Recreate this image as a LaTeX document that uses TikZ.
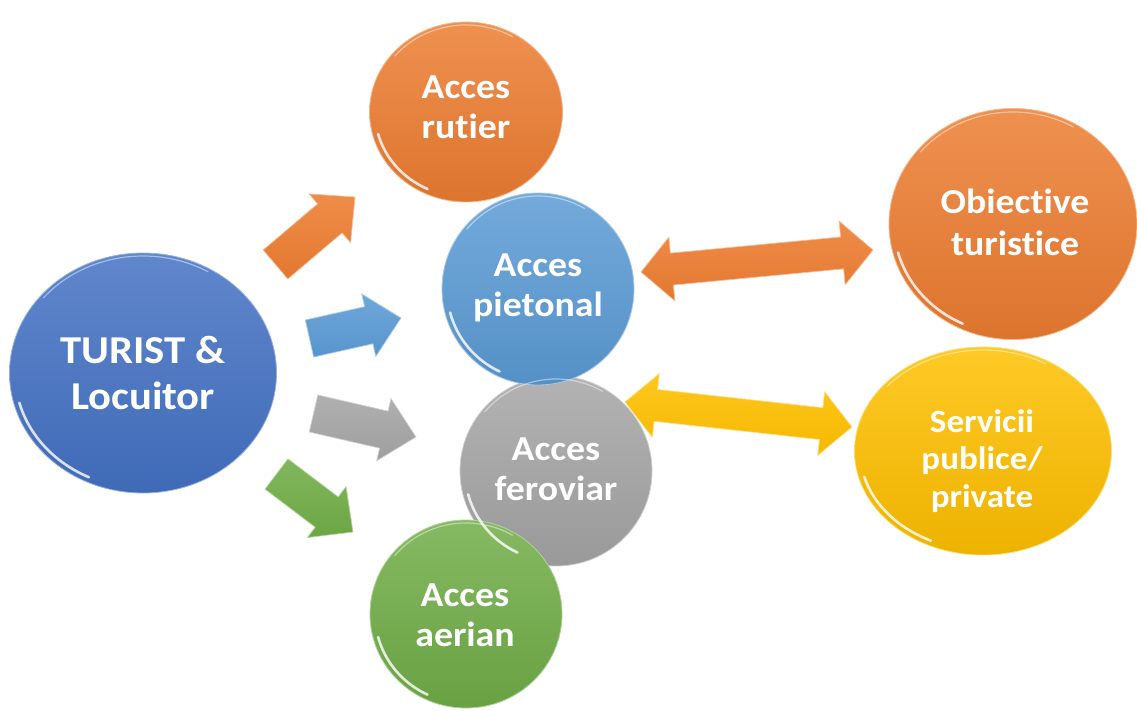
\documentclass[tikz,border=0pt]{standalone}
\usepackage{fontspec}
\setmainfont{Carlito}[Ligatures=CommonOff, FakeStretch=1.08]
\usetikzlibrary{calc,shapes.geometric}
\definecolor{tblue}{HTML}{4472C4}
\definecolor{torange}{HTML}{ED7D31}
\definecolor{tlblue}{HTML}{5B9BD5}
\definecolor{tgray}{HTML}{A5A5A5}
\definecolor{tgreen}{HTML}{70AD47}
\definecolor{tyellow}{HTML}{FFC000}
\newcommand\shine[3]{%
  \draw[white, line width=2.6pt, opacity=0.8, line cap=round]
    ($(#1.center)+(195:#2pt-5pt and #3pt-5pt)$)
    arc[start angle=195, end angle=245, x radius=#2pt-5pt, y radius=#3pt-5pt];
  \draw[white, line width=1.2pt, opacity=0.45, line cap=round]
    ($(#1.center)+(60:#2pt-3pt and #3pt-3pt)$)
    arc[start angle=60, end angle=140, x radius=#2pt-3pt, y radius=#3pt-3pt];
}
\newcommand\sarrow[3]{% start, end, colour
  \coordinate (#1N) at ($(#2)!33pt!(#1)$);
  \path[arr=#3] ($(#1)!19pt!90:(#2)$) -- ($(#1N)!19pt!90:(#2)$) -- ($(#1N)!32pt!90:(#2)$)
     -- (#2) -- ($(#1N)!32pt!-90:(#2)$) -- ($(#1N)!19pt!-90:(#2)$) -- ($(#1)!19pt!-90:(#2)$) -- cycle;
}
\newcommand\darrow[3]{% tip a, tip b, colour
  \coordinate (#1N) at ($(#1)!31pt!(#2)$);
  \coordinate (#2N) at ($(#2)!31pt!(#1)$);
  \path[arr=#3] (#1) -- ($(#1N)!32pt!90:(#2)$) -- ($(#1N)!16pt!90:(#2)$) -- ($(#2N)!16pt!90:(#2)$)
     -- ($(#2N)!32pt!90:(#2)$) -- (#2) -- ($(#2N)!32pt!-90:(#2)$) -- ($(#2N)!16pt!-90:(#2)$)
     -- ($(#1N)!16pt!-90:(#2)$) -- ($(#1N)!32pt!-90:(#2)$) -- cycle;
}
\begin{document}
\begin{tikzpicture}[x=1pt,y=1pt,
  bub/.style={ellipse, inner sep=0pt,
     top color=#1!85!white, bottom color=#1!93!black, draw=#1!55!white, line width=0.8pt},
  lbl/.style={align=center, text=white, inner sep=0pt,
     font=\bfseries\fontsize{35}{40}\selectfont},
  arr/.style={top color=#1!88!white, bottom color=#1!96!black, draw=#1!50!white, line width=0.7pt, line join=miter},
]
\useasboundingbox (0,0) rectangle (1137,-711);
% bubbles
\node[bub=torange, minimum width=193pt, minimum height=180pt] (rut) at (466,-112) {};
\node[bub=tgray, minimum width=192pt, minimum height=190pt] (fer) at (556,-471) {};
\node[bub=tlblue, minimum width=192pt, minimum height=192pt] (pie) at (538,-289) {};
\node[bub=tgreen, minimum width=192pt, minimum height=188pt] (aer) at (466,-614) {};
\node[bub=tblue, minimum width=267pt, minimum height=240pt] (tur) at (143,-373) {};
\node[bub=torange, minimum width=248pt, minimum height=231pt] (obi) at (1013,-224) {};
\node[bub=tyellow, minimum width=257pt, minimum height=208pt] (ser) at (983,-451) {};
\shine{rut}{96}{90}
\shine{fer}{96}{95}
\shine{pie}{96}{96}
\shine{aer}{96}{94}
\shine{tur}{133}{120}
\shine{obi}{124}{115}
\shine{ser}{128}{104}
% labels
\node[lbl] (rutT) at (466,-107) {Acces\\rutier};
\node[lbl] (pieT) at (538,-288) {Acces\\pietonal};
\node[lbl] (ferT) at (556,-469) {Acces\\feroviar};
\node[lbl] (aerT) at (465,-615) {Acces\\aerian};
\node[lbl, font=\bfseries\fontsize{39.5}{46.5}\selectfont] (turT) at (143,-373) {TURIST \&\\Locuitor};
\node[lbl, font=\bfseries\fontsize{35}{42}\selectfont] (obiT) at (1015,-222) {Obiective\\turistice};
\node[lbl, font=\bfseries\fontsize{32.5}{37.5}\selectfont] (serT) at (982,-461) {Servicii\\publice/\\private};
% single arrows
\coordinate (a1s) at (275.5,-264.5); \coordinate (a1e) at (355,-197);
\coordinate (a2s) at (309.5,-338.5); \coordinate (a2e) at (401,-318);
\coordinate (a3s) at (313.5,-413.5); \coordinate (a3e) at (416,-437);
\coordinate (a4s) at (276.5,-474);   \coordinate (a4e) at (353,-532);
\sarrow{a1s}{a1e}{torange}
\sarrow{a2s}{a2e}{tlblue}
\sarrow{a3s}{a3e}{tgray}
\sarrow{a4s}{a4e}{tgreen}
% double arrows
\coordinate (d1a) at (641,-272); \coordinate (d1b) at (873,-250);
\coordinate (d2a) at (625,-402); \coordinate (d2b) at (852,-427);
\darrow{d1a}{d1b}{torange}
\darrow{d2a}{d2b}{tyellow}
\end{tikzpicture}
\end{document}
